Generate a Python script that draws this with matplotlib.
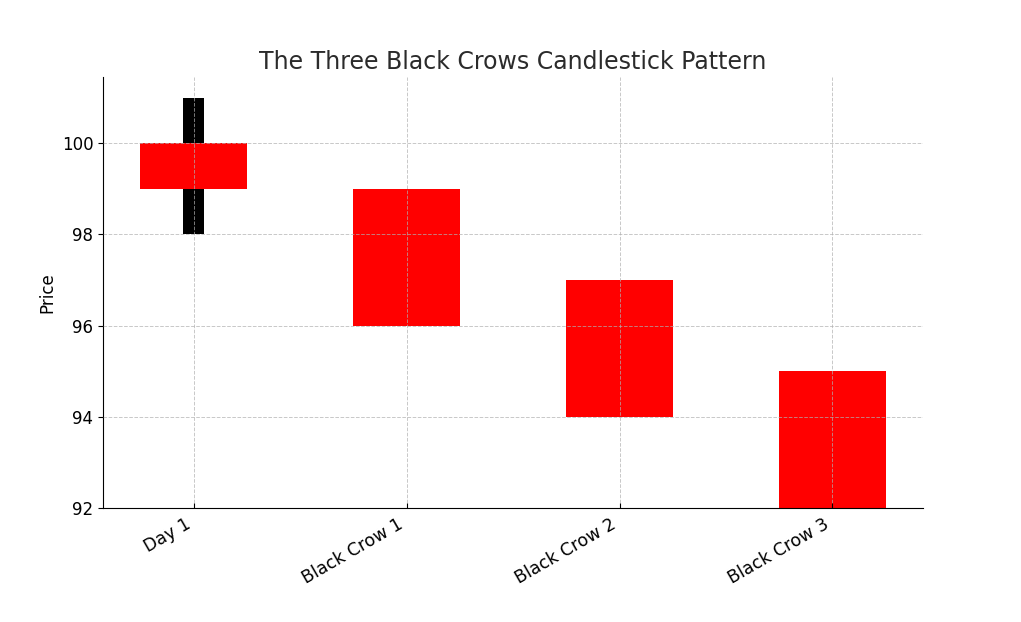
import matplotlib.pyplot as plt

# Данные свечей
labels = ['Day 1', 'Black Crow 1', 'Black Crow 2', 'Black Crow 3']
opens = [100, 99, 97, 95]
closes = [99, 96, 94, 92]
highs = [101, 99, 97, 95]
lows = [98, 96, 94, 92]

fig, ax = plt.subplots(figsize=(10.21, 6.22), dpi=100)
x = range(len(labels))

for i in x:
    # тень свечи
    ax.bar(i, highs[i] - lows[i], bottom=lows[i], width=0.1, color='black', zorder=1)
    # тело свечи
    body_low = min(opens[i], closes[i])
    ax.bar(i, abs(opens[i] - closes[i]), bottom=body_low, width=0.5, color='red', zorder=2)

ax.set_xticks(list(x))
ax.set_xticklabels(labels, rotation=30, ha='right', fontsize=12.5)
ax.tick_params(axis='y', labelsize=12)
ax.tick_params(axis='x', direction='in', pad=5)
ax.set_ylabel('Price', fontsize=12)
ax.set_title('The Three Black Crows Candlestick Pattern', fontsize=17, color='#2b2b2b')
ax.grid(True, linestyle='--', color='#b0b0b0', alpha=0.7, linewidth=0.7, zorder=3)
ax.set_axisbelow(False)
ax.spines['top'].set_visible(False)
ax.spines['right'].set_visible(False)

fig.subplots_adjust(left=0.101, right=0.904, top=0.876, bottom=0.183)
plt.savefig('out.png')
